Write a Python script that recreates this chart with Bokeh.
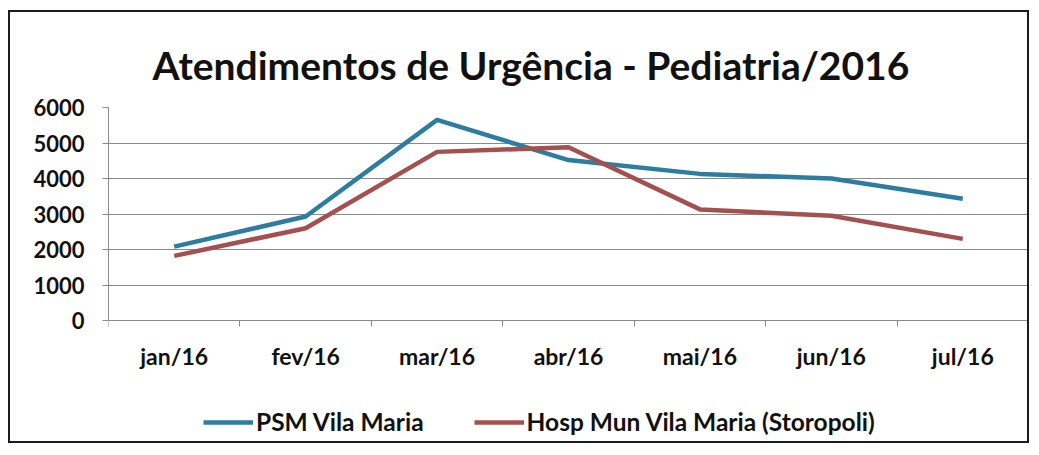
from bokeh.plotting import figure
from bokeh.models import Range1d, FixedTicker, Legend, LegendItem
from bokeh.embed import file_html
from bokeh.resources import INLINE

months = ["jan/16", "fev/16", "mar/16", "abr/16", "mai/16", "jun/16", "jul/16"]
psm_vila_maria = [2080, 2930, 5650, 4520, 4130, 4000, 3430]
hosp_mun_storopoli = [1820, 2600, 4750, 4880, 3130, 2950, 2300]
y_ticks = [0, 1000, 2000, 3000, 4000, 5000, 6000]

FONT = "Lato"
BLUE = "#2C7DA0"
RED = "#A4504E"
GRID = "#8a8a8a"

xs = list(range(len(months)))

# frame extends below the x axis so the legend can sit inside it
PLOT_H = 213      # pixel height of the 0..max data area
BELOW_H = 125     # pixel space under the x axis (labels + legend)
ymax = y_ticks[-1]
ymin = -ymax * BELOW_H / PLOT_H

p = figure(width=1021, height=95 + PLOT_H + BELOW_H,
           x_range=Range1d(-0.5, len(months) - 0.5),
           y_range=Range1d(ymin, ymax),
           output_backend="svg", toolbar_location=None,
           min_border_left=98, min_border_right=3,
           min_border_top=95, min_border_bottom=0)
p.styles = {"border": "2px solid #1c1c1c", "margin-left": "8px", "margin-top": "10px"}

p.title.text = "Atendimentos de Urgência - Pediatria/2016"
p.title.align = "left"
p.title.offset = 44
p.title.standoff = 40
p.title.text_font = FONT
p.title.text_font_size = "39px"
p.title.text_font_style = "bold"
p.title.text_color = "#111111"

p.outline_line_color = None
p.background_fill_color = "white"
p.border_fill_color = "white"

# y axis
p.yaxis.ticker = FixedTicker(ticks=y_ticks)
p.yaxis.bounds = (y_ticks[0], y_ticks[-1])
p.yaxis.axis_line_color = GRID
p.yaxis.major_tick_line_color = GRID
p.yaxis.major_tick_out = 6
p.yaxis.major_tick_in = 0
p.yaxis.minor_tick_line_color = None
p.yaxis.major_label_standoff = 18
p.yaxis.major_label_text_font = FONT
p.yaxis.major_label_text_font_size = "22px"
p.yaxis.major_label_text_font_style = "bold"
p.yaxis.major_label_text_color = "#111111"

# x axis, pinned at y = 0
bounds = [i - 0.5 for i in range(len(months) + 1)]
p.xaxis.fixed_location = 0
p.xaxis.ticker = FixedTicker(ticks=xs, minor_ticks=bounds)
p.xaxis.major_label_overrides = {i: m for i, m in enumerate(months)}
p.xaxis.axis_line_color = GRID
p.xaxis.major_tick_line_color = None
p.xaxis.major_tick_out = 0
p.xaxis.major_tick_in = 0
p.xaxis.minor_tick_line_color = GRID
p.xaxis.minor_tick_out = 6
p.xaxis.minor_tick_in = 0
p.xaxis.major_label_standoff = 15
p.xaxis.major_label_text_font = FONT
p.xaxis.major_label_text_font_size = "23px"
p.xaxis.major_label_text_font_style = "bold"
p.xaxis.major_label_text_color = "#111111"

p.xgrid.grid_line_color = None
p.ygrid.grid_line_color = GRID
p.ygrid.grid_line_width = 1

r1 = p.line(xs, psm_vila_maria, line_color=BLUE, line_width=4.5)
r2 = p.line(xs, hosp_mun_storopoli, line_color=RED, line_width=4.5)

legend = Legend(items=[LegendItem(label="PSM Vila Maria", renderers=[r1]),
                       LegendItem(label="Hosp Mun Vila Maria (Storopoli)", renderers=[r2])],
                orientation="horizontal", location=(95, 9),
                glyph_width=50, glyph_height=20, label_standoff=3, spacing=50,
                padding=0, margin=0, border_line_color=None,
                background_fill_alpha=0,
                label_text_font=FONT, label_text_font_size="24.5px",
                label_text_font_style="bold", label_text_color="#111111")
p.add_layout(legend, "center")

open("out.html", "w").write(file_html(p, INLINE))
